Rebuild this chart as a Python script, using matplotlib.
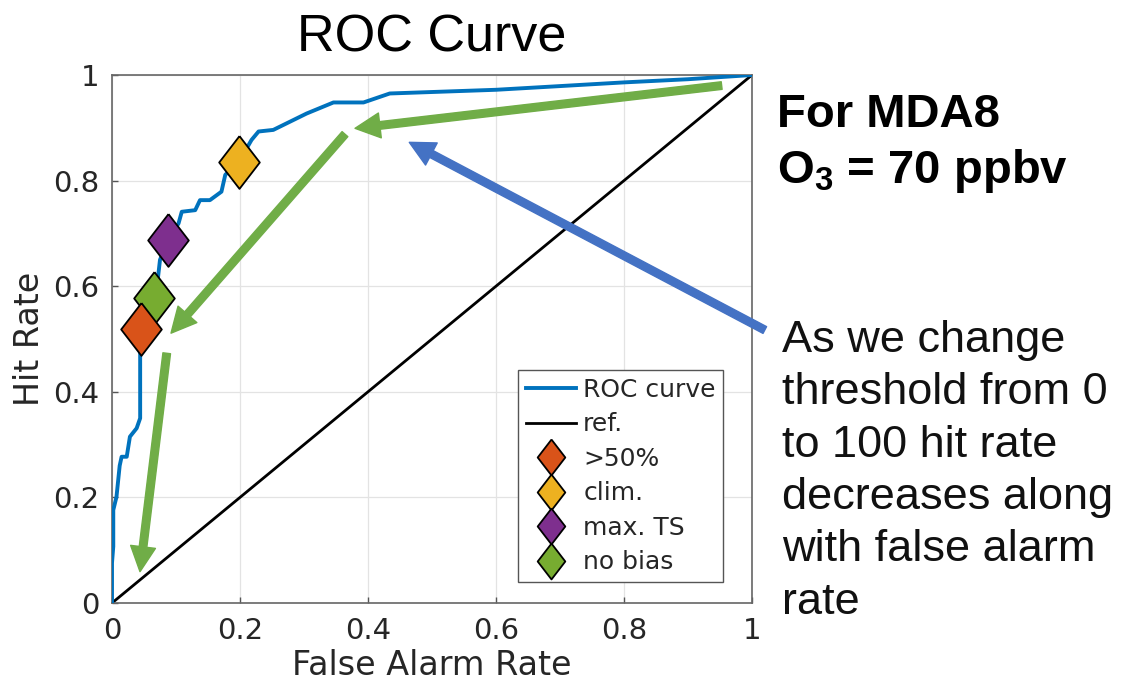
import matplotlib
matplotlib.use('Agg')
import matplotlib.pyplot as plt
from matplotlib.patches import FancyArrowPatch
from matplotlib import rcParams

rcParams['font.family'] = 'DejaVu Sans'
rcParams['mathtext.fontset'] = 'custom'
rcParams['mathtext.rm'] = 'Liberation Sans'
rcParams['mathtext.bf'] = 'Liberation Sans:bold'

# ROC curve (false alarm rate, hit rate)
far = [0.0, 0.0, 0.002, 0.002, 0.007, 0.012, 0.015, 0.023, 0.028, 0.0385, 0.044, 0.044,
       0.046, 0.055, 0.065, 0.072, 0.075, 0.088, 0.104, 0.109, 0.13, 0.1375, 0.153,
       0.171, 0.177, 0.198, 0.218, 0.229, 0.252, 0.304, 0.346, 0.393, 0.434, 0.6,
       0.8, 0.9, 1.0]
hit = [0.0, 0.076, 0.107, 0.176, 0.201, 0.26, 0.277, 0.277, 0.315, 0.331, 0.35, 0.473,
       0.518, 0.545, 0.577, 0.618, 0.65, 0.688, 0.719, 0.741, 0.744, 0.763, 0.763,
       0.779, 0.811, 0.835, 0.877, 0.893, 0.896, 0.927, 0.948, 0.948, 0.965, 0.972,
       0.986, 0.992, 1.0]

# threshold choices
pt_labels = ['>50%', 'clim.', 'max. TS', 'no bias']
pt_far = [0.046, 0.198, 0.088, 0.065]
pt_hit = [0.518, 0.835, 0.688, 0.577]
pt_colors = ['#D95319', '#EDB120', '#7E2F8E', '#77AC30']
pt_zorder = [6, 5, 5, 5]

# annotation arrows (tail, head) in axis units
green_arrows = [((0.9526, 0.980), (0.3797, 0.899)),
                ((0.364, 0.888), (0.0922, 0.511)),
                ((0.0855, 0.473), (0.04375, 0.0593))]
blue_arrow = ((1.020, 0.517), (0.4645, 0.8725))

note_lines = ['As we change', 'threshold from 0', 'to 100 hit rate',
              'decreases along', 'with false alarm', 'rate']

W, H = 1137, 689
fig = plt.figure(figsize=(W / 100, H / 100), dpi=100)
ax = fig.add_axes([112 / W, 86 / H, 640 / W, 528 / H])

diamond = [(0, 1), (0.77, 0), (0, -1), (-0.77, 0), (0, 1)]

ax.plot(far, hit, color='#0072BD', lw=2.8, label='ROC curve', zorder=3)
ax.plot([0, 1], [0, 1], color='black', lw=2.0, label='ref.', zorder=2)
for lab, x, y, c, z in zip(pt_labels, pt_far, pt_hit, pt_colors, pt_zorder):
    ax.plot(x, y, linestyle='none', marker=diamond, markersize=38, markerfacecolor=c,
            markeredgecolor='black', markeredgewidth=1.3, label=lab, zorder=z)

ticks = [0, 0.2, 0.4, 0.6, 0.8, 1]
ticklabels = ['0', '0.2', '0.4', '0.6', '0.8', '1']
ax.set_xlim(0, 1)
ax.set_ylim(0, 1)
ax.set_xticks(ticks)
ax.set_yticks(ticks)
ax.set_xticklabels(ticklabels)
ax.set_yticklabels(ticklabels)
ax.tick_params(direction='in', length=4, width=1, colors='#555555', labelcolor='#262626',
               labelsize=21)
ax.tick_params(axis='x', pad=10)
ax.tick_params(axis='y', pad=9)
ax.grid(True, color='#e3e3e3', lw=0.9)
ax.set_axisbelow(True)
for s in ax.spines.values():
    s.set_color('#666666')
    s.set_linewidth(1.2)

ax.set_xlabel('False Alarm Rate', fontsize=24, color='#262626', labelpad=3)
ax.set_ylabel('Hit Rate', fontsize=24, color='#262626', labelpad=5)
ax.set_title('ROC Curve', fontsize=37.5, family='Liberation Sans', pad=17)

handles, labels = ax.get_legend_handles_labels()
leg = ax.legend(handles, labels, loc='lower right', bbox_to_anchor=(0.955, 0.04),
                fontsize=18, markerscale=0.68, numpoints=1, fancybox=False,
                handlelength=2.0, handletextpad=0.3, borderpad=0.3, labelspacing=0.42,
                borderaxespad=0, framealpha=1)
leg.get_frame().set_edgecolor('#555555')
leg.get_frame().set_linewidth(1.0)
for t in leg.get_texts():
    t.set_color('#262626')

arrow_style = 'simple,head_length=18,head_width=18,tail_width=5.5'
for tail, head in green_arrows:
    ax.add_patch(FancyArrowPatch(tail, head, arrowstyle=arrow_style, mutation_scale=1,
                                 color='#70AD47', shrinkA=0, shrinkB=0, zorder=8,
                                 clip_on=False))
ax.add_patch(FancyArrowPatch(blue_arrow[0], blue_arrow[1], arrowstyle=arrow_style,
                             mutation_scale=1, color='#4472C4', shrinkA=0, shrinkB=0,
                             zorder=8, clip_on=False))

fig.text(777 / W, 1 - 127 / H, 'For MDA8', family='Liberation Sans', fontweight='bold',
         fontsize=34, va='baseline', ha='left')
fig.text(777 / W, 1 - 183 / H, r'O$_{\mathbf{3}}$ = 70 ppbv', family='Liberation Sans',
         fontweight='bold', fontsize=34, va='baseline', ha='left')

for i, line in enumerate(note_lines):
    fig.text(782 / W, 1 - (352 + 52.3 * i) / H, line, family='Liberation Sans',
             fontsize=32.5, va='baseline', ha='left', color='#111111')

fig.savefig('out.png', dpi=100)
